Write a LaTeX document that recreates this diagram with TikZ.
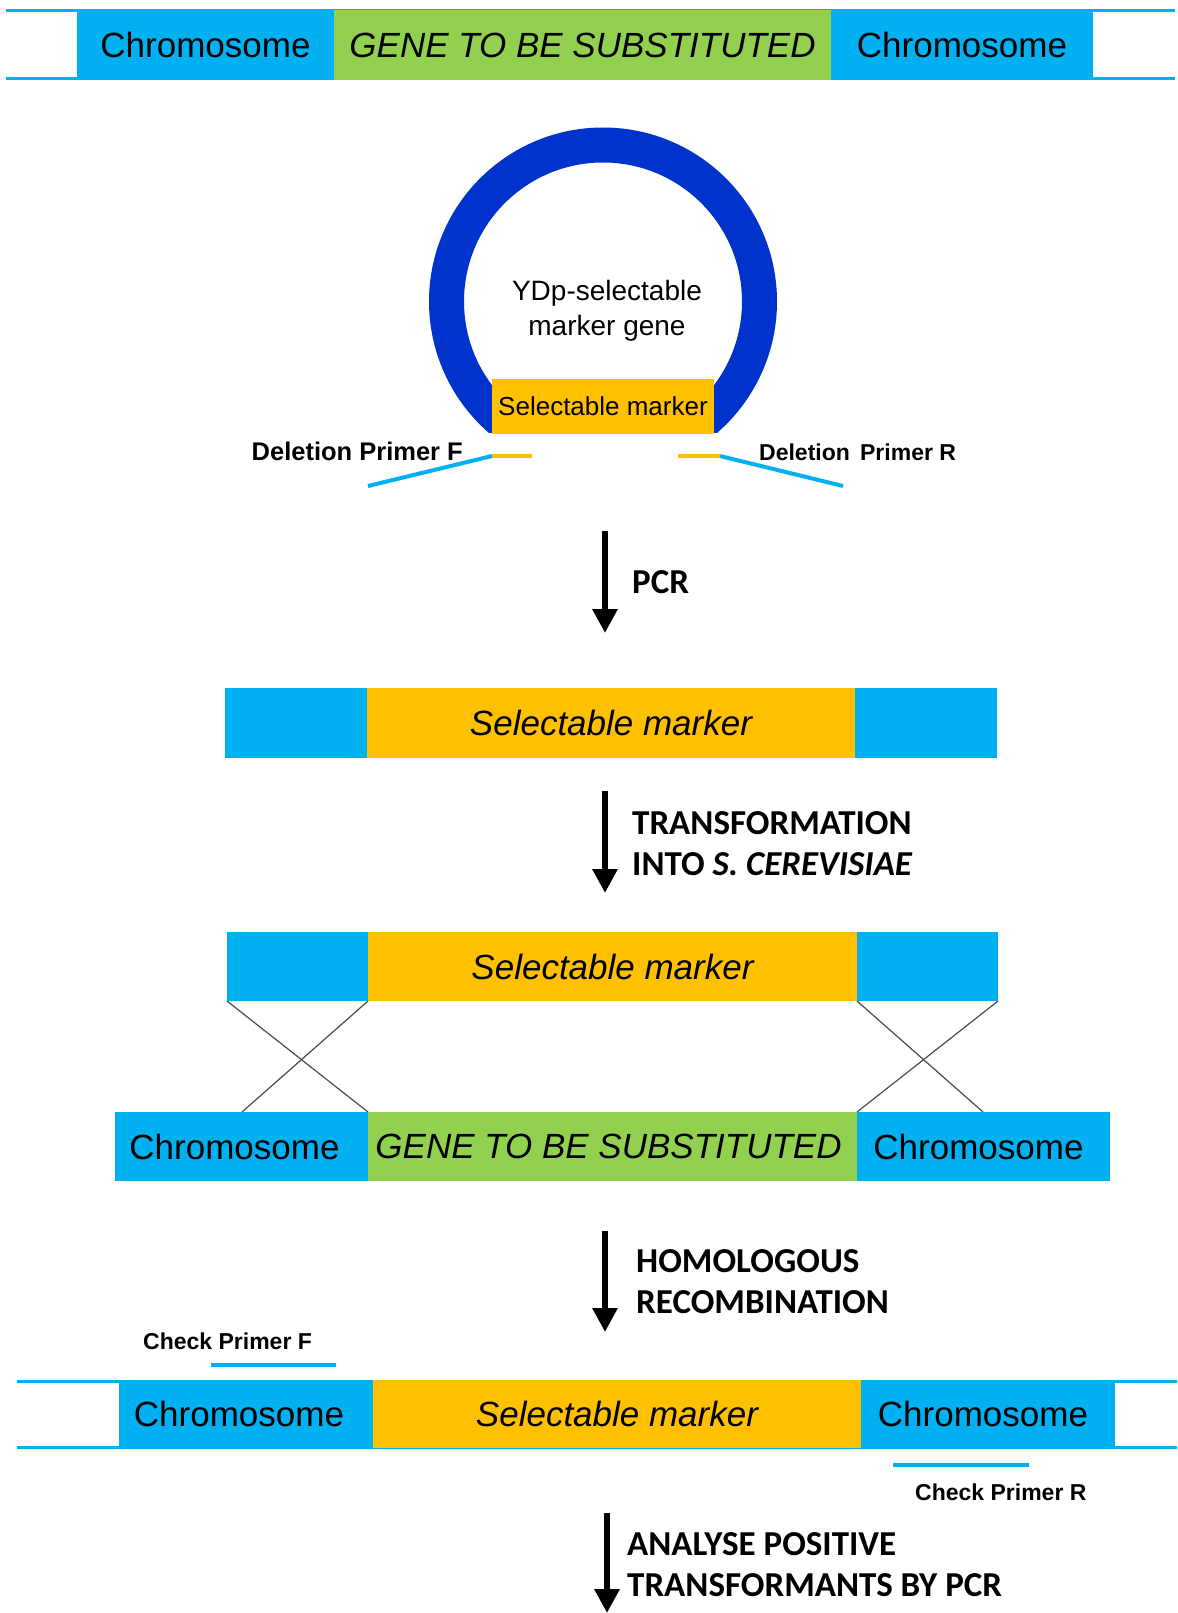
\documentclass[tikz,border=0pt]{standalone}
\usepackage{fontspec}
\setmainfont{Liberation Sans}
\newfontfamily\calibrifont{Carlito}
\usetikzlibrary{arrows.meta}
\definecolor{cblue}{HTML}{00B0F0}
\definecolor{cgreen}{HTML}{92D050}
\definecolor{corange}{HTML}{FFC000}
\definecolor{ringblue}{HTML}{0033CC}
\begin{document}
\begin{tikzpicture}[x=1pt,y=-1pt,
  seg/.style={draw=none, inner sep=0pt, outer sep=0pt, anchor=north west, font=\fontsize{35}{40}\selectfont},
  chrom/.style={seg, fill=cblue},
  gene/.style={seg, fill=cgreen, font=\fontsize{35}{40}\selectfont\itshape},
  marker/.style={seg, fill=corange, font=\fontsize{35}{40}\selectfont\itshape},
  dnaline/.style={draw=cblue, line width=3pt},
  primer/.style={draw=cblue, line width=4pt},
  oprimer/.style={draw=corange, line width=4pt},
  steparrow/.style={line width=6pt, -{Triangle[width=24pt,length=24pt]}},
  steplabel/.style={anchor=west, align=left, inner sep=0pt, font=\calibrifont\bfseries\fontsize{35}{41}\selectfont},
  cross/.style={draw=black!70, line width=1.2pt},
  plabel/.style={inner sep=0pt, font=\bfseries\fontsize{23}{26}\selectfont}
]
\useasboundingbox[fill=white] (0,0) rectangle (1177,1613);

% ---- top chromosome ----
\draw[dnaline] (6,11) -- (1175,11);
\draw[dnaline] (6,79) -- (1175,79);
\node[chrom, minimum width=257pt, minimum height=70pt] (t1) at (77,10) {Chromosome};
\node[gene, minimum width=497pt, minimum height=70pt] (t2) at (334,10) {GENE TO BE SUBSTITUTED};
\node[chrom, minimum width=262pt, minimum height=70pt] (t3) at (831,10) {Chromosome};

% ---- plasmid ----
\begin{scope}
\clip (400,100) rectangle (800,432);
\fill[ringblue, even odd rule] (603,301.5) circle[radius=174] (603,301.5) circle[radius=139];
\end{scope}
\node[seg, fill=corange, minimum width=222pt, minimum height=55pt, font=\fontsize{26}{30}\selectfont] (pm) at (492,379) {Selectable marker};
\node[align=center, inner sep=0pt, font=\fontsize{28}{35}\selectfont] (ptxt) at (607,311) {YDp-selectable\\marker gene};

% primers
\coordinate (fo1) at (492,456);
\coordinate (fo2) at (532,456);
\coordinate (fb) at (368,486);
\draw[oprimer] (fo1) -- (fo2);
\draw[primer] (fo1) -- (fb);
\node[plabel, anchor=base east, font=\bfseries\fontsize{25.5}{28}\selectfont] (dpf) at (463,460) {Deletion Primer F};
\coordinate (ro1) at (678,456);
\coordinate (ro2) at (720,456);
\coordinate (rb) at (843,486);
\draw[oprimer] (ro1) -- (ro2);
\draw[primer] (ro2) -- (rb);
\node[plabel, anchor=base west, font=\bfseries\fontsize{23}{26}\selectfont] (dpr) at (759,460) {Deletion\, Primer R};

% ---- arrow 1 ----
\coordinate (a1s) at (605,531);
\coordinate (a1e) at (605,633);
\draw[steparrow] (a1s) -- (a1e);
\node[steplabel] (l1) at (632,582) {PCR};

% ---- bar 2 ----
\node[chrom, minimum width=142pt, minimum height=70pt] (b2l) at (225,688) {};
\node[marker, minimum width=488pt, minimum height=70pt] (b2m) at (367,688) {Selectable marker};
\node[chrom, minimum width=142pt, minimum height=70pt] (b2r) at (855,688) {};

% ---- arrow 2 ----
\coordinate (a2s) at (605,791);
\coordinate (a2e) at (605,893);
\draw[steparrow] (a2s) -- (a2e);
\node[steplabel] (l2) at (632,844) {TRANSFORMATION\\INTO \textit{S. CEREVISIAE}};

% ---- bar 3 ----
\node[chrom, minimum width=141pt, minimum height=69pt] (b3l) at (227,932) {};
\node[marker, minimum width=489pt, minimum height=69pt] (b3m) at (368,932) {Selectable marker};
\node[chrom, minimum width=141pt, minimum height=69pt] (b3r) at (857,932) {};

% ---- bar 4 ----
\node[chrom, minimum width=253pt, minimum height=69pt] (b4l) at (115,1112) {Chromosome\hspace*{14pt}};
\node[gene, minimum width=489pt, minimum height=69pt] (b4m) at (368,1112) {GENE TO BE SUBSTITUTED\hspace*{8pt}};
\node[chrom, minimum width=253pt, minimum height=69pt] (b4r) at (857,1112) {Chromosome\hspace*{10pt}};

% crossovers
\coordinate (c1) at (242,1112);
\coordinate (c2) at (983,1112);
\draw[cross] (b3l.south west) -- (b4m.north west);
\draw[cross] (b3l.south east) -- (c1);
\draw[cross] (b3r.south west) -- (c2);
\draw[cross] (b3r.south east) -- (b4r.north west);

% ---- arrow 3 ----
\coordinate (a3s) at (605,1231);
\coordinate (a3e) at (605,1332);
\draw[steparrow] (a3s) -- (a3e);
\node[steplabel] (l3) at (636,1282) {HOMOLOGOUS\\RECOMBINATION};

% check primer F
\node[plabel, anchor=base west] (cpf) at (143,1349) {Check Primer F};
\coordinate (cf1) at (211,1365);
\coordinate (cf2) at (336,1365);
\draw[primer] (cf1) -- (cf2);

% ---- bar 5 ----
\draw[dnaline] (17,1381) -- (1177,1381);
\draw[dnaline] (17,1447) -- (1177,1447);
\node[chrom, minimum width=254pt, minimum height=68pt] (b5l) at (119,1380) {Chromosome\hspace*{14pt}};
\node[marker, minimum width=488pt, minimum height=68pt] (b5m) at (373,1380) {Selectable marker};
\node[chrom, minimum width=254pt, minimum height=68pt] (b5r) at (861,1380) {Chromosome\hspace*{10pt}};

% check primer R
\coordinate (cr1) at (893,1465);
\coordinate (cr2) at (1029,1465);
\draw[primer] (cr1) -- (cr2);
\node[plabel, anchor=base west] (cpr) at (915,1500) {Check Primer R};

% ---- arrow 4 ----
\coordinate (a4s) at (607,1513);
\coordinate (a4e) at (607,1613);
\draw[steparrow] (a4s) -- (a4e);
\node[steplabel] (l4) at (627,1565) {ANALYSE POSITIVE\\TRANSFORMANTS BY PCR};
\end{tikzpicture}
\end{document}
